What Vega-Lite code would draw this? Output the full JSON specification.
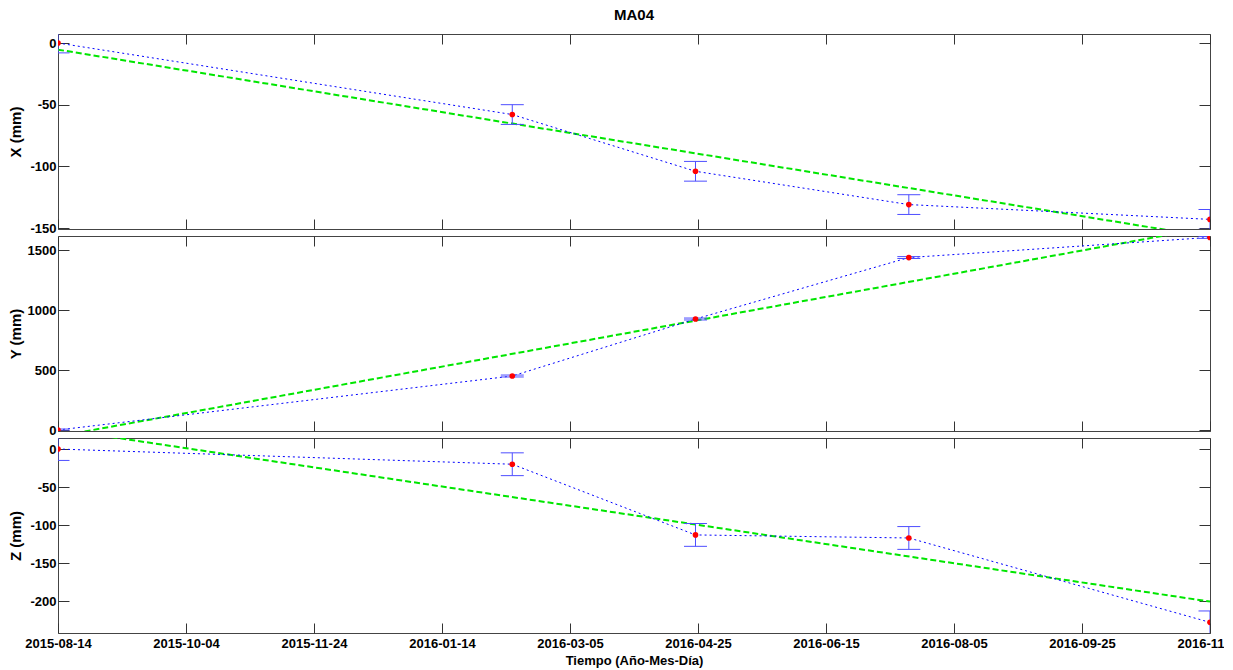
{
  "$schema": "https://vega.github.io/schema/vega-lite/v6.json",
  "autosize": {"type": "none"},
  "padding": {"left": 58, "top": 34, "right": 14, "bottom": 37},
  "params": [{"name": "width", "value": 1152}, {"name": "height", "value": 599}],
  "background": "white",
  "title": {"text": "MA04", "fontSize": 15, "fontWeight": "bold", "font": "Liberation Sans", "anchor": "middle", "frame": "group", "offset": 10, "color": "#000"},
  "bounds": "flush",
  "spacing": 7,
  "datasets": {
    "pts": [
      {"date": "2015-08-14", "comp": "X", "v": 0, "lo": -8, "hi": 8},
      {"date": "2016-02-11", "comp": "X", "v": -58, "lo": -66, "hi": -50},
      {"date": "2016-04-24", "comp": "X", "v": -104, "lo": -112, "hi": -96},
      {"date": "2016-07-18", "comp": "X", "v": -131, "lo": -139, "hi": -123},
      {"date": "2016-11-15", "comp": "X", "v": -143, "lo": -151, "hi": -135},
      {"date": "2015-08-14", "comp": "Y", "v": 0, "lo": -8, "hi": 8},
      {"date": "2016-02-11", "comp": "Y", "v": 450, "lo": 442, "hi": 458},
      {"date": "2016-04-24", "comp": "Y", "v": 925, "lo": 917, "hi": 933},
      {"date": "2016-07-18", "comp": "Y", "v": 1437, "lo": 1429, "hi": 1445},
      {"date": "2016-11-15", "comp": "Y", "v": 1605, "lo": 1597, "hi": 1613},
      {"date": "2015-08-14", "comp": "Z", "v": 0, "lo": -15, "hi": 15},
      {"date": "2016-02-11", "comp": "Z", "v": -20, "lo": -35, "hi": -5},
      {"date": "2016-04-24", "comp": "Z", "v": -113, "lo": -128, "hi": -98},
      {"date": "2016-07-18", "comp": "Z", "v": -117, "lo": -132, "hi": -102},
      {"date": "2016-11-15", "comp": "Z", "v": -228, "lo": -243, "hi": -213}
    ],
    "fit": [
      {"date": "2015-08-14", "comp": "X", "v": -5.4},
      {"date": "2016-11-15", "comp": "X", "v": -157.3},
      {"date": "2015-08-14", "comp": "Y", "v": -52.6},
      {"date": "2016-11-15", "comp": "Y", "v": 1689.6},
      {"date": "2015-08-14", "comp": "Z", "v": 26.3},
      {"date": "2016-11-15", "comp": "Z", "v": -200.7}
    ]
  },
  "vconcat": [
    {
      "width": 1152, "height": 195,
      "encoding": {
        "x": {"field": "date", "type": "temporal", "scale": {"type": "utc", "domain": [{"year": 2015, "month": 8, "date": 14, "utc": true}, {"year": 2016, "month": 11, "date": 15, "utc": true}]}, "axis": null},
        "y": {"field": "v", "type": "quantitative", "scale": {"domain": [-150.8, 7.3], "nice": false, "zero": false}, "axis": null}
      },
      "layer": [
        {"data": {"name": "fit"}, "transform": [{"filter": "datum.comp === 'X'"}],
         "mark": {"type": "line", "clip": true, "color": "#00e600", "strokeWidth": 2, "strokeDash": [6, 3]},
         "encoding": {
           "x": {"field": "date", "type": "temporal", "axis": {"orient": "bottom", "labels": false, "title": null, "tickSize": -10, "values": [{"year": 2015, "month": 8, "date": 14, "utc": true}, {"year": 2015, "month": 10, "date": 4, "utc": true}, {"year": 2015, "month": 11, "date": 24, "utc": true}, {"year": 2016, "month": 1, "date": 14, "utc": true}, {"year": 2016, "month": 3, "date": 5, "utc": true}, {"year": 2016, "month": 4, "date": 25, "utc": true}, {"year": 2016, "month": 6, "date": 15, "utc": true}, {"year": 2016, "month": 8, "date": 5, "utc": true}, {"year": 2016, "month": 9, "date": 25, "utc": true}, {"year": 2016, "month": 11, "date": 15, "utc": true}]}},
           "y": {"field": "v", "type": "quantitative", "axis": {"orient": "left", "values": [0, -50, -100, -150], "labelExpr": "'' + datum.value", "title": "X (mm)", "tickSize": -11, "labelPadding": 13, "minExtent": 32, "maxExtent": 32, "titlePadding": 3}}
         }},
        {"data": {"name": "pts"}, "transform": [{"filter": "datum.comp === 'X'"}],
         "mark": {"type": "line", "clip": true, "color": "#0000ff", "strokeWidth": 1, "strokeDash": [2, 3]},
         "encoding": {
           "x": {"field": "date", "type": "temporal", "axis": {"orient": "top", "labels": false, "title": null, "tickSize": -10, "values": [{"year": 2015, "month": 8, "date": 14, "utc": true}, {"year": 2015, "month": 10, "date": 4, "utc": true}, {"year": 2015, "month": 11, "date": 24, "utc": true}, {"year": 2016, "month": 1, "date": 14, "utc": true}, {"year": 2016, "month": 3, "date": 5, "utc": true}, {"year": 2016, "month": 4, "date": 25, "utc": true}, {"year": 2016, "month": 6, "date": 15, "utc": true}, {"year": 2016, "month": 8, "date": 5, "utc": true}, {"year": 2016, "month": 9, "date": 25, "utc": true}, {"year": 2016, "month": 11, "date": 15, "utc": true}]}},
           "y": {"field": "v", "type": "quantitative", "axis": {"orient": "right", "values": [0, -50, -100, -150], "labels": false, "title": null, "tickSize": -11}}
         }},
        {"data": {"name": "pts"}, "transform": [{"filter": "datum.comp === 'X'"}],
         "mark": {"type": "rule", "clip": true, "color": "#4d4dff", "strokeWidth": 1},
         "encoding": {"y": {"field": "lo", "type": "quantitative", "axis": null}, "y2": {"field": "hi"}}},
        {"data": {"name": "pts"}, "transform": [{"filter": "datum.comp === 'X'"}],
         "mark": {"type": "tick", "orient": "horizontal", "clip": true, "color": "#4d4dff", "size": 23, "thickness": 1, "opacity": 1},
         "encoding": {"y": {"field": "lo", "type": "quantitative", "axis": null}}},
        {"data": {"name": "pts"}, "transform": [{"filter": "datum.comp === 'X'"}],
         "mark": {"type": "tick", "orient": "horizontal", "clip": true, "color": "#4d4dff", "size": 23, "thickness": 1, "opacity": 1},
         "encoding": {"y": {"field": "hi", "type": "quantitative", "axis": null}}},
        {"data": {"name": "pts"}, "transform": [{"filter": "datum.comp === 'X'"}],
         "mark": {"type": "circle", "clip": true, "color": "#ff0000", "size": 32, "opacity": 1}}
      ],
      "resolve": {"axis": {"x": "independent", "y": "independent"}}
    },
    {
      "width": 1152, "height": 195,
      "encoding": {
        "x": {"field": "date", "type": "temporal", "scale": {"type": "utc", "domain": [{"year": 2015, "month": 8, "date": 14, "utc": true}, {"year": 2016, "month": 11, "date": 15, "utc": true}]}, "axis": null},
        "y": {"field": "v", "type": "quantitative", "scale": {"domain": [-8.3, 1616.7], "nice": false, "zero": false}, "axis": null}
      },
      "layer": [
        {"data": {"name": "fit"}, "transform": [{"filter": "datum.comp === 'Y'"}],
         "mark": {"type": "line", "clip": true, "color": "#00e600", "strokeWidth": 2, "strokeDash": [6, 3]},
         "encoding": {
           "x": {"field": "date", "type": "temporal", "axis": {"orient": "bottom", "labels": false, "title": null, "tickSize": -10, "values": [{"year": 2015, "month": 8, "date": 14, "utc": true}, {"year": 2015, "month": 10, "date": 4, "utc": true}, {"year": 2015, "month": 11, "date": 24, "utc": true}, {"year": 2016, "month": 1, "date": 14, "utc": true}, {"year": 2016, "month": 3, "date": 5, "utc": true}, {"year": 2016, "month": 4, "date": 25, "utc": true}, {"year": 2016, "month": 6, "date": 15, "utc": true}, {"year": 2016, "month": 8, "date": 5, "utc": true}, {"year": 2016, "month": 9, "date": 25, "utc": true}, {"year": 2016, "month": 11, "date": 15, "utc": true}]}},
           "y": {"field": "v", "type": "quantitative", "axis": {"orient": "left", "values": [0, 500, 1000, 1500], "labelExpr": "'' + datum.value", "title": "Y (mm)", "tickSize": -11, "labelPadding": 13, "minExtent": 32, "maxExtent": 32, "titlePadding": 3}}
         }},
        {"data": {"name": "pts"}, "transform": [{"filter": "datum.comp === 'Y'"}],
         "mark": {"type": "line", "clip": true, "color": "#0000ff", "strokeWidth": 1, "strokeDash": [2, 3]},
         "encoding": {
           "x": {"field": "date", "type": "temporal", "axis": {"orient": "top", "labels": false, "title": null, "tickSize": -10, "values": [{"year": 2015, "month": 8, "date": 14, "utc": true}, {"year": 2015, "month": 10, "date": 4, "utc": true}, {"year": 2015, "month": 11, "date": 24, "utc": true}, {"year": 2016, "month": 1, "date": 14, "utc": true}, {"year": 2016, "month": 3, "date": 5, "utc": true}, {"year": 2016, "month": 4, "date": 25, "utc": true}, {"year": 2016, "month": 6, "date": 15, "utc": true}, {"year": 2016, "month": 8, "date": 5, "utc": true}, {"year": 2016, "month": 9, "date": 25, "utc": true}, {"year": 2016, "month": 11, "date": 15, "utc": true}]}},
           "y": {"field": "v", "type": "quantitative", "axis": {"orient": "right", "values": [0, 500, 1000, 1500], "labels": false, "title": null, "tickSize": -11}}
         }},
        {"data": {"name": "pts"}, "transform": [{"filter": "datum.comp === 'Y'"}],
         "mark": {"type": "rule", "clip": true, "color": "#4d4dff", "strokeWidth": 1},
         "encoding": {"y": {"field": "lo", "type": "quantitative", "axis": null}, "y2": {"field": "hi"}}},
        {"data": {"name": "pts"}, "transform": [{"filter": "datum.comp === 'Y'"}],
         "mark": {"type": "tick", "orient": "horizontal", "clip": true, "color": "#4d4dff", "size": 23, "thickness": 1, "opacity": 1},
         "encoding": {"y": {"field": "lo", "type": "quantitative", "axis": null}}},
        {"data": {"name": "pts"}, "transform": [{"filter": "datum.comp === 'Y'"}],
         "mark": {"type": "tick", "orient": "horizontal", "clip": true, "color": "#4d4dff", "size": 23, "thickness": 1, "opacity": 1},
         "encoding": {"y": {"field": "hi", "type": "quantitative", "axis": null}}},
        {"data": {"name": "pts"}, "transform": [{"filter": "datum.comp === 'Y'"}],
         "mark": {"type": "circle", "clip": true, "color": "#ff0000", "size": 32, "opacity": 1}}
      ],
      "resolve": {"axis": {"x": "independent", "y": "independent"}}
    },
    {
      "width": 1152, "height": 195,
      "encoding": {
        "x": {"field": "date", "type": "temporal", "scale": {"type": "utc", "domain": [{"year": 2015, "month": 8, "date": 14, "utc": true}, {"year": 2016, "month": 11, "date": 15, "utc": true}]}, "axis": null},
        "y": {"field": "v", "type": "quantitative", "scale": {"domain": [-242, 14.5], "nice": false, "zero": false}, "axis": null}
      },
      "layer": [
        {"data": {"name": "fit"}, "transform": [{"filter": "datum.comp === 'Z'"}],
         "mark": {"type": "line", "clip": true, "color": "#00e600", "strokeWidth": 2, "strokeDash": [6, 3]},
         "encoding": {
           "x": {"field": "date", "type": "temporal", "axis": {"orient": "bottom", "labels": true, "labelExpr": "utcFormat(datum.value, '%Y-%m-%d')", "labelFlush": false, "labelOverlap": false, "title": "Tiempo (Año-Mes-Día)", "titleFontSize": 13, "titlePadding": 4, "tickSize": -10, "labelPadding": 14, "values": [{"year": 2015, "month": 8, "date": 14, "utc": true}, {"year": 2015, "month": 10, "date": 4, "utc": true}, {"year": 2015, "month": 11, "date": 24, "utc": true}, {"year": 2016, "month": 1, "date": 14, "utc": true}, {"year": 2016, "month": 3, "date": 5, "utc": true}, {"year": 2016, "month": 4, "date": 25, "utc": true}, {"year": 2016, "month": 6, "date": 15, "utc": true}, {"year": 2016, "month": 8, "date": 5, "utc": true}, {"year": 2016, "month": 9, "date": 25, "utc": true}, {"year": 2016, "month": 11, "date": 15, "utc": true}]}},
           "y": {"field": "v", "type": "quantitative", "axis": {"orient": "left", "values": [0, -50, -100, -150, -200], "labelExpr": "'' + datum.value", "title": "Z (mm)", "tickSize": -11, "labelPadding": 13, "minExtent": 32, "maxExtent": 32, "titlePadding": 3}}
         }},
        {"data": {"name": "pts"}, "transform": [{"filter": "datum.comp === 'Z'"}],
         "mark": {"type": "line", "clip": true, "color": "#0000ff", "strokeWidth": 1, "strokeDash": [2, 3]},
         "encoding": {
           "x": {"field": "date", "type": "temporal", "axis": {"orient": "top", "labels": false, "title": null, "tickSize": -10, "values": [{"year": 2015, "month": 8, "date": 14, "utc": true}, {"year": 2015, "month": 10, "date": 4, "utc": true}, {"year": 2015, "month": 11, "date": 24, "utc": true}, {"year": 2016, "month": 1, "date": 14, "utc": true}, {"year": 2016, "month": 3, "date": 5, "utc": true}, {"year": 2016, "month": 4, "date": 25, "utc": true}, {"year": 2016, "month": 6, "date": 15, "utc": true}, {"year": 2016, "month": 8, "date": 5, "utc": true}, {"year": 2016, "month": 9, "date": 25, "utc": true}, {"year": 2016, "month": 11, "date": 15, "utc": true}]}},
           "y": {"field": "v", "type": "quantitative", "axis": {"orient": "right", "values": [0, -50, -100, -150, -200], "labels": false, "title": null, "tickSize": -11}}
         }},
        {"data": {"name": "pts"}, "transform": [{"filter": "datum.comp === 'Z'"}],
         "mark": {"type": "rule", "clip": true, "color": "#4d4dff", "strokeWidth": 1},
         "encoding": {"y": {"field": "lo", "type": "quantitative", "axis": null}, "y2": {"field": "hi"}}},
        {"data": {"name": "pts"}, "transform": [{"filter": "datum.comp === 'Z'"}],
         "mark": {"type": "tick", "orient": "horizontal", "clip": true, "color": "#4d4dff", "size": 23, "thickness": 1, "opacity": 1},
         "encoding": {"y": {"field": "lo", "type": "quantitative", "axis": null}}},
        {"data": {"name": "pts"}, "transform": [{"filter": "datum.comp === 'Z'"}],
         "mark": {"type": "tick", "orient": "horizontal", "clip": true, "color": "#4d4dff", "size": 23, "thickness": 1, "opacity": 1},
         "encoding": {"y": {"field": "hi", "type": "quantitative", "axis": null}}},
        {"data": {"name": "pts"}, "transform": [{"filter": "datum.comp === 'Z'"}],
         "mark": {"type": "circle", "clip": true, "color": "#ff0000", "size": 32, "opacity": 1}}
      ],
      "resolve": {"axis": {"x": "independent", "y": "independent"}}
    }
  ],
  "config": {
    "font": "Liberation Sans",
    "view": {"stroke": "#444", "strokeWidth": 1},
    "axis": {
      "labelFont": "Liberation Sans", "labelFontSize": 13, "labelFontWeight": "bold", "labelColor": "#000",
      "titleFont": "Liberation Sans", "titleFontSize": 15, "titleFontWeight": "bold", "titleColor": "#000",
      "tickColor": "#333", "tickWidth": 1, "domain": false, "grid": false
    }
  }
}
